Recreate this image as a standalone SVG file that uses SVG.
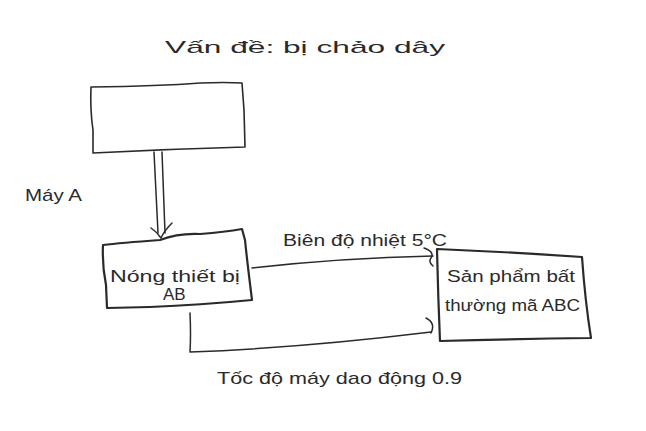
<svg xmlns="http://www.w3.org/2000/svg" width="646" height="431" viewBox="0 0 646 431">
<style>
.box{fill:none;stroke:#2a2a2a;stroke-width:1.6;stroke-linejoin:round;stroke-linecap:round}
.thick{stroke-width:2.2}
.conn{fill:none;stroke:#2a2a2a;stroke-width:1.5;stroke-linecap:round;stroke-linejoin:round}
.t{font-family:"Liberation Sans","DejaVu Sans",sans-serif;font-size:17px;fill:#2a2a2a}
</style>
<rect width="646" height="431" fill="#ffffff"/>
<text class="t" x="165" y="53" font-size="22" textLength="280" lengthAdjust="spacingAndGlyphs">Vấn đề: bị chảo dây</text>
<text class="t" x="25" y="201" font-size="20" textLength="57" lengthAdjust="spacingAndGlyphs">Máy A</text>
<g id="node-top">
<path class="box" d="M91,87 Q160,86 200,83 Q225,82 242,83 L244,110 L245,147 Q170,149 93,153 L93,130 Q90,110 91,87 Z"/>
</g>
<g id="node-ab">
<path class="box thick" d="M103,245 Q120,243 160,240 Q178,233 200,234 Q225,232 242,229 L245,240 Q247,260 252,300 Q200,305 150,307 L107,308 L106,285 Q102,265 103,245 Z"/>
<text class="t" x="110" y="282" textLength="130" lengthAdjust="spacingAndGlyphs">Nóng thiết bị</text>
<text class="t" x="163" y="300" font-size="18">AB</text>
</g>
<g id="node-abc">
<path class="box thick" d="M437,249 Q510,252 582,257 Q585,300 591,338 Q515,339 440,341 Q438,295 437,249 Z"/>
<text class="t" x="447" y="282" textLength="128" lengthAdjust="spacingAndGlyphs">Sản phẩm bất</text>
<text class="t" x="445" y="311" textLength="135" lengthAdjust="spacingAndGlyphs">thường mã ABC</text>
</g>
<g id="connectors">
<path class="conn" d="M154,152 L158,233 M162,152 L165,233"/>
<path class="conn" d="M151,228 Q157,232 161,238 Q164,231 172,223"/>
<path class="conn" d="M252,268 Q340,258 433,256"/>
<path class="conn" d="M424,248 Q435,252 431,258 Q428,262 433,266"/>
<path class="conn" d="M190,313 Q191,335 190,352 Q300,348 431,332"/>
<path class="conn" d="M426,318 Q436,323 431,333"/>
<text class="t" x="283" y="246" textLength="164" lengthAdjust="spacingAndGlyphs">Biên độ nhiệt 5°C</text>
<text class="t" x="217" y="384" textLength="245" lengthAdjust="spacingAndGlyphs">Tốc độ máy dao động 0.9</text>
</g>
</svg>
